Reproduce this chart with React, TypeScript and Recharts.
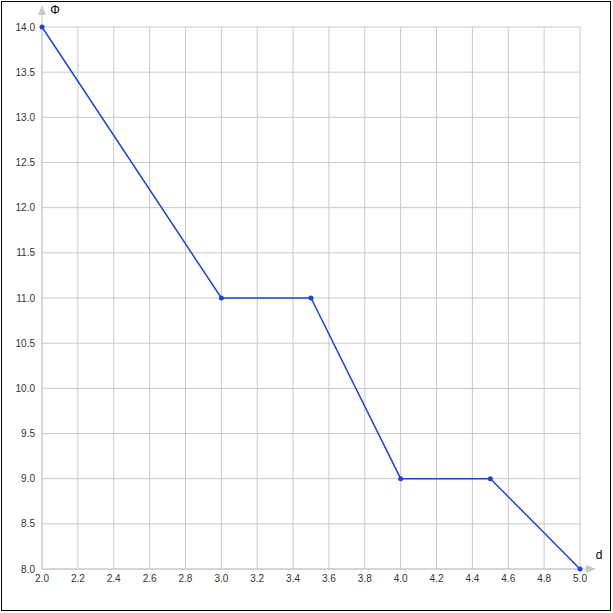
import React from 'react';
import {
  LineChart,
  Line,
  XAxis,
  YAxis,
  CartesianGrid,
} from 'recharts';

// 値
const dValues = [2.0, 3.0, 3.5, 4.0, 4.5, 5.0];
const phiValues = [14.0, 11.0, 11.0, 9.0, 9.0, 8.0];

// 目盛り
const xTicks = [2.0, 2.2, 2.4, 2.6, 2.8, 3.0, 3.2, 3.4, 3.6, 3.8, 4.0, 4.2, 4.4, 4.6, 4.8, 5.0];
const yTicks = [8.0, 8.5, 9.0, 9.5, 10.0, 10.5, 11.0, 11.5, 12.0, 12.5, 13.0, 13.5, 14.0];

const data = dValues.map((d, i) => ({ d, phi: phiValues[i] }));

const AXIS_COLOR = '#c8c8c8';
const ARROW_COLOR = '#c8c8c8';
const LINE_COLOR = '#1f45cf';
const FONT = '"Liberation Sans", Arial, sans-serif';

// Y軸の矢印とラベル
const YArrow = (props: any) => {
  const { x, y, width } = props.viewBox;
  const ax = x + width;
  return (
    <g>
      <line x1={ax} y1={y} x2={ax} y2={y - 12} stroke={AXIS_COLOR} strokeWidth={1} />
      <polygon points={`${ax},${y - 22} ${ax - 4},${y - 12} ${ax + 4},${y - 12}`} fill={ARROW_COLOR} />
      <text x={ax + 13} y={y - 17} textAnchor="middle" dominantBaseline="central" fontSize={12} fill="#000" fontFamily={FONT}>
        Φ
      </text>
    </g>
  );
};

// X軸の矢印とラベル
const XArrow = (props: any) => {
  const { x, y, width } = props.viewBox;
  const ax = x + width;
  return (
    <g>
      <line x1={ax} y1={y} x2={ax + 6} y2={y} stroke={AXIS_COLOR} strokeWidth={1} />
      <polygon points={`${ax + 16},${y} ${ax + 6},${y - 4} ${ax + 6},${y + 4}`} fill={ARROW_COLOR} />
      <text x={ax + 19} y={y - 14} textAnchor="middle" dominantBaseline="central" fontSize={12} fill="#000" fontFamily={FONT}>
        d
      </text>
    </g>
  );
};

const App: React.FC = () => {
  return (
    <div style={{ position: 'fixed', left: 0, top: 0, width: 613, height: 613, background: '#fff' }}>
      <LineChart
        width={613}
        height={613}
        data={data}
        margin={{ top: 27, right: 33, left: 0, bottom: 0 }}
        style={{ fontFamily: FONT }}
      >
        <CartesianGrid stroke={AXIS_COLOR} horizontalPoints={undefined} />
        <XAxis
          dataKey="d"
          type="number"
          domain={[2, 5]}
          ticks={xTicks}
          interval={0}
          height={44}
          tickSize={0}
          tickMargin={6}
          tickLine={false}
          axisLine={{ stroke: AXIS_COLOR }}
          tickFormatter={(v: number) => v.toFixed(1)}
          tick={{ fontSize: 10, fill: '#333', fontFamily: FONT }}
          label={<XArrow />}
        />
        <YAxis
          type="number"
          domain={[8, 14]}
          ticks={yTicks}
          interval={0}
          width={42}
          tickSize={0}
          tickMargin={7}
          tickLine={false}
          axisLine={{ stroke: AXIS_COLOR }}
          tickFormatter={(v: number) => v.toFixed(1)}
          tick={{ fontSize: 10, fill: '#333', fontFamily: FONT }}
          label={<YArrow />}
        />
        <Line
          type="linear"
          dataKey="phi"
          stroke={LINE_COLOR}
          strokeWidth={1.5}
          dot={{ r: 2.5, fill: LINE_COLOR, stroke: LINE_COLOR, strokeWidth: 0 }}
          activeDot={false}
          isAnimationActive={false}
        />
      </LineChart>
      <div
        style={{
          position: 'absolute',
          left: 1,
          top: 1,
          width: 610,
          height: 610,
          border: '1px solid #000',
          boxSizing: 'border-box',
          pointerEvents: 'none',
        }}
      />
    </div>
  );
};

export default App;
